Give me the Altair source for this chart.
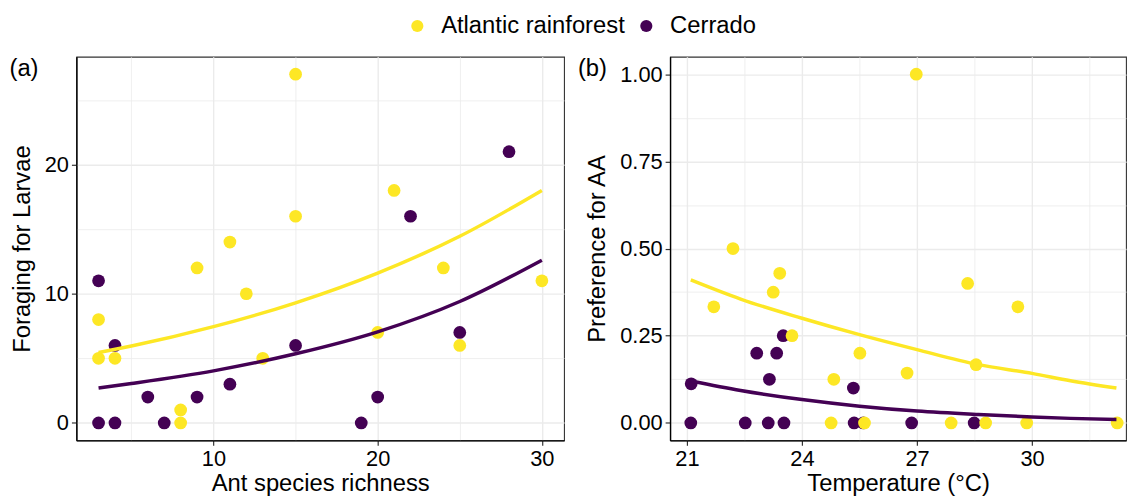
import altair as alt
import pandas as pd

regions = ["Atlantic rainforest", "Cerrado"]
region_colors = ["#FDE725", "#440154"]
panel_labels = ["(a)", "(b)"]

# Panel (a): foraging for larvae vs ant species richness
a_af_richness = [15, 3, 3, 4, 9, 11, 12, 15, 13, 8, 8, 21, 20, 24, 25, 30]
a_af_larvae = [27, 8, 5, 5, 12, 14, 10, 16, 5, 1, 0, 18, 7, 12, 6, 11]
a_ce_richness = [3, 3, 4, 4, 6, 7, 9, 11, 15, 19, 20, 22, 25, 28]
a_ce_larvae = [11, 0, 6, 0, 2, 0, 2, 3, 6, 0, 2, 16, 7, 21]

# fitted curves
a_fit_x = [3, 5, 10, 15, 20, 25, 30]
a_fit_af = [5.45, 5.95, 7.45, 9.3, 11.6, 14.45, 18.0]
a_fit_ce = [2.7, 3.05, 4.03, 5.35, 7.05, 9.4, 12.6]

# Panel (b): preference for AA vs temperature
b_af_temp = [21.70, 22.20, 23.25, 23.42, 23.74, 24.76, 24.83, 25.51, 25.63,
             26.74, 26.98, 27.89, 28.32, 28.54, 28.79, 29.63, 29.86, 32.22]
b_af_pref = [0.333, 0.5, 0.375, 0.429, 0.25, 0.0, 0.125, 0.2, 0.0,
             0.143, 1.0, 0.0, 0.4, 0.167, 0.0, 0.333, 0.0, 0.0]
b_ce_temp = [21.10, 21.11, 22.52, 22.82, 23.12, 23.15, 23.34, 23.51, 23.53,
             25.34, 25.36, 25.60, 26.86, 28.49]
b_ce_pref = [0.0, 0.112, 0.0, 0.2, 0.0, 0.125, 0.2, 0.25, 0.0,
             0.1, 0.0, 0.0, 0.0, 0.0]

# fitted curves
b_fit_x = [21.1, 22.4, 24.0, 25.5, 27.0, 28.6, 30.0, 31.0, 32.2]
b_fit_af = [0.41, 0.355, 0.30, 0.253, 0.21, 0.167, 0.142, 0.121, 0.10]
b_fit_ce = [0.12, 0.093, 0.067, 0.048, 0.034, 0.024, 0.017, 0.013, 0.010]


def points_df(x_af, y_af, x_ce, y_ce):
    rows = [{"x": x, "y": y, "region": regions[1]} for x, y in zip(x_ce, y_ce)]
    rows += [{"x": x, "y": y, "region": regions[0]} for x, y in zip(x_af, y_af)]
    return pd.DataFrame(rows)


def fit_df(xs, y_af, y_ce):
    rows = [{"x": x, "y": y, "region": regions[0]} for x, y in zip(xs, y_af)]
    rows += [{"x": x, "y": y, "region": regions[1]} for x, y in zip(xs, y_ce)]
    return pd.DataFrame(rows)


color_scale = alt.Scale(domain=regions, range=region_colors)

legend = alt.Legend(
    title=None, orient="none", direction="horizontal",
    legendX=332, legendY=-43,
    labelFontSize=24, labelColor="black", labelLimit=0,
    symbolSize=150, symbolType="circle",
    symbolStrokeWidth=0, labelOffset=12, columnPadding=9,
)


def cond(test, a, b):
    return {"condition": {"test": test, "value": a}, "value": b}


def panel(pts, fits, label, label_dx, x_dom, y_dom, x_vals, y_vals, x_major, y_major,
          y_fmt, x_title, y_title, width, height):
    x_axis = alt.Axis(
        values=x_vals, title=x_title,
        labelExpr=f"{x_major} ? datum.label : ''",
        tickOpacity=cond(f"!({x_major})", 0, 1),
        gridWidth=cond(f"!({x_major})", 0.8, 1.4),
    )
    y_axis = alt.Axis(
        values=y_vals, title=y_title,
        labelExpr=f"{y_major} ? format(datum.value, '{y_fmt}') : ''",
        tickOpacity=cond(f"!({y_major})", 0, 1),
        gridWidth=cond(f"!({y_major})", 0.8, 1.4),
    )
    x_enc = alt.X("x:Q", scale=alt.Scale(domain=x_dom, nice=False, zero=False), axis=x_axis)
    y_enc = alt.Y("y:Q", scale=alt.Scale(domain=y_dom, nice=False, zero=False), axis=y_axis)
    p = alt.Chart(pts).mark_circle(size=165, opacity=1).encode(
        x=x_enc, y=y_enc,
        color=alt.Color("region:N", scale=color_scale, legend=legend),
    )
    l = alt.Chart(fits).mark_line(strokeWidth=3.5, interpolate="monotone").encode(
        x=x_enc, y=y_enc,
        color=alt.Color("region:N", scale=color_scale, legend=None),
    )
    t = alt.Chart(pd.DataFrame({"label": [label]})).mark_text(
        align="left", baseline="top", fontSize=24, color="black"
    ).encode(x=alt.value(label_dx), y=alt.value(0), text="label:N")
    return alt.layer(p, l, t).properties(width=width, height=height)


panel_a = panel(
    points_df(a_af_richness, a_af_larvae, a_ce_richness, a_ce_larvae),
    fit_df(a_fit_x, a_fit_af, a_fit_ce),
    panel_labels[0], -67.5,
    [1.65, 31.35], [-1.35, 28.35],
    [5, 10, 15, 20, 25, 30], [0, 5, 10, 15, 20, 25],
    "datum.value % 10 == 0", "datum.value % 10 == 0", "d",
    "Ant species richness", "Foraging for Larvae", 492, 387,
)

panel_b = panel(
    points_df(b_af_temp, b_af_pref, b_ce_temp, b_ce_pref),
    fit_df(b_fit_x, b_fit_af, b_fit_ce),
    panel_labels[1], -93,
    [20.56, 32.45], [-0.05, 1.05],
    [21, 22.5, 24, 25.5, 27, 28.5, 30, 31.5], [0, 0.125, 0.25, 0.375, 0.5, 0.625, 0.75, 0.875, 1.0],
    "(datum.value - 21) % 3 == 0", "(datum.value * 4) % 1 == 0", ".2f",
    "Temperature (°C)", "Preference for AA", 460, 387,
)

chart = (
    alt.hconcat(panel_a, panel_b, spacing=12)
    .resolve_scale(color="shared")
    .properties(padding={"left": 0, "right": 0, "top": 4, "bottom": 0})
    .configure(font="Liberation Sans")
    .configure_view(stroke="#333333", strokeWidth=1.1)
    .configure_axis(
        labelFontSize=22, titleFontSize=24, labelColor="black", titleColor="black",
        titleFontWeight="normal", tickSize=5, tickColor="#333333", tickWidth=1.2,
        domainColor="black", domainWidth=1.4, gridColor="#EBEBEB",
    )
    .configure_axisX(labelPadding=3, titlePadding=3)
    .configure_axisY(labelPadding=3, titlePadding=10)
)

chart.save("out.html", embed_options={"renderer": "svg", "actions": False})
